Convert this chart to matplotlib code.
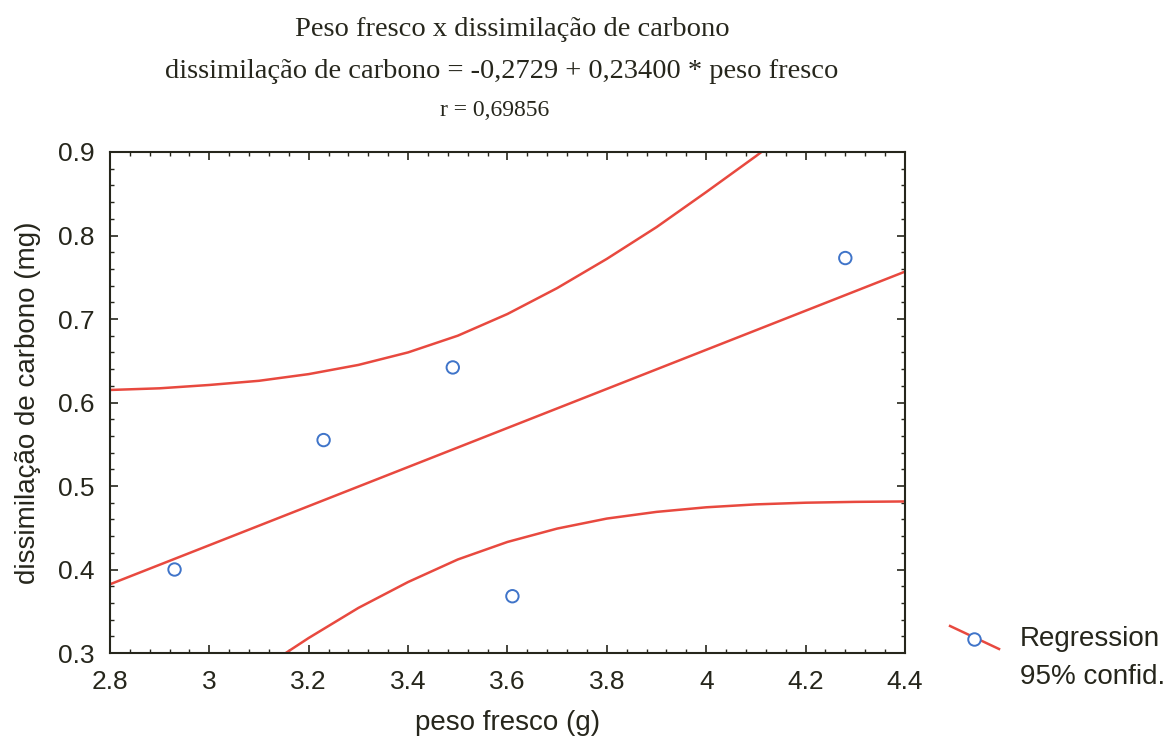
import matplotlib.pyplot as plt
from matplotlib.lines import Line2D
from matplotlib.ticker import MultipleLocator

# observed values
peso_fresco = [2.93, 3.23, 3.49, 3.61, 4.28]
dissimilacao = [0.400, 0.555, 0.642, 0.368, 0.773]

# fitted line coefficients (from the equation in the title)
intercept = -0.2729
slope = 0.23400
r_value = 0.69856

# 95% confidence band, read at steps of 0.1 g
band_x = [2.8, 2.9, 3.0, 3.1, 3.2, 3.3, 3.4, 3.5, 3.6, 3.7, 3.8,
          3.9, 4.0, 4.1, 4.2, 4.3, 4.4]
band_upper = [0.615, 0.617, 0.621, 0.626, 0.634, 0.645, 0.660, 0.680, 0.706,
              0.737, 0.772, 0.810, 0.852, 0.895, 0.940, 0.985, 1.032]
band_lower = [0.149, 0.194, 0.237, 0.279, 0.318, 0.354, 0.385, 0.412, 0.433,
              0.449, 0.461, 0.469, 0.4745, 0.478, 0.480, 0.481, 0.4815]

x_ticks = [2.8, 3.0, 3.2, 3.4, 3.6, 3.8, 4.0, 4.2, 4.4]
x_ticklabels = ['2.8', '3', '3.2', '3.4', '3.6', '3.8', '4', '4.2', '4.4']
y_ticks = [0.3, 0.4, 0.5, 0.6, 0.7, 0.8, 0.9]
y_ticklabels = ['0.3', '0.4', '0.5', '0.6', '0.7', '0.8', '0.9']

red = '#e8493f'
blue = '#3f74c9'
ink = '#26261c'
sans = 'Liberation Sans'
serif = 'Liberation Serif'

fig = plt.figure(figsize=(11.66, 7.44), dpi=100)
ax = fig.add_axes([0.0943, 0.1223, 0.6818, 0.6734])

line_x = [2.8, 4.4]
line_y = [intercept + slope * v for v in line_x]
ax.plot(line_x, line_y, color=red, lw=1.8)
ax.plot(band_x, band_upper, color=red, lw=1.8)
ax.plot(band_x, band_lower, color=red, lw=1.8)
ax.scatter(peso_fresco, dissimilacao, s=80, facecolors='none',
           edgecolors=blue, linewidths=1.4, zorder=3)

ax.set_xticks(x_ticks)
ax.set_xticklabels(x_ticklabels, family=sans)
ax.set_yticks(y_ticks)
ax.set_yticklabels(y_ticklabels, family=sans)
ax.xaxis.set_minor_locator(MultipleLocator(0.04))
ax.yaxis.set_minor_locator(MultipleLocator(0.02))
ax.set_xlim(2.8, 4.4)
ax.set_ylim(0.3, 0.9)

ax.tick_params(which='both', direction='in', top=True, right=True,
               colors=ink, labelsize=19)
ax.tick_params(axis='x', which='major', pad=12)
ax.tick_params(axis='y', which='major', pad=11)
ax.tick_params(which='major', length=6, width=1.2)
ax.tick_params(which='minor', length=3, width=1.0)
for s in ax.spines.values():
    s.set_color(ink)
    s.set_linewidth(1.5)

ax.set_xlabel('peso fresco (g)', fontsize=20, color=ink, labelpad=12,
              family=sans)
ax.set_ylabel('dissimilação de carbono (mg)', fontsize=20, color=ink,
              labelpad=12, family=sans)

fig.text(512 / 1166, 1 - 30 / 744, 'Peso fresco x dissimilação de carbono',
         ha='center', va='center', fontsize=20.5, family=serif, color=ink)
fig.text(502 / 1166, 1 - 71 / 744,
         'dissimilação de carbono = %s + %s * peso fresco'
         % (('%.4f' % intercept).replace('.', ','), ('%.5f' % slope).replace('.', ',')),
         ha='center', va='center', fontsize=20.5, family=serif, color=ink)
fig.text(495 / 1166, 1 - 110 / 744, 'r = %s' % ('%.5f' % r_value).replace('.', ','),
         ha='center', va='center', fontsize=17, family=serif, color=ink)

# legend glyph
fig.add_artist(Line2D([0.8148, 0.8568], [0.1586, 0.1277], color=red, lw=1.8,
                      transform=fig.transFigure))
fig.add_artist(Line2D([0.8353], [0.1411], marker='o', markersize=9,
                      markerfacecolor='white', markeredgecolor=blue,
                      markeredgewidth=1.4, transform=fig.transFigure))
fig.text(0.8745, 0.1411, 'Regression', ha='left', va='center',
         fontsize=20, family=sans, color=ink)
fig.text(0.8745, 0.0901, '95% confid.', ha='left', va='center',
         fontsize=20, family=sans, color=ink)

fig.savefig('out.png', dpi=100, facecolor='white')
